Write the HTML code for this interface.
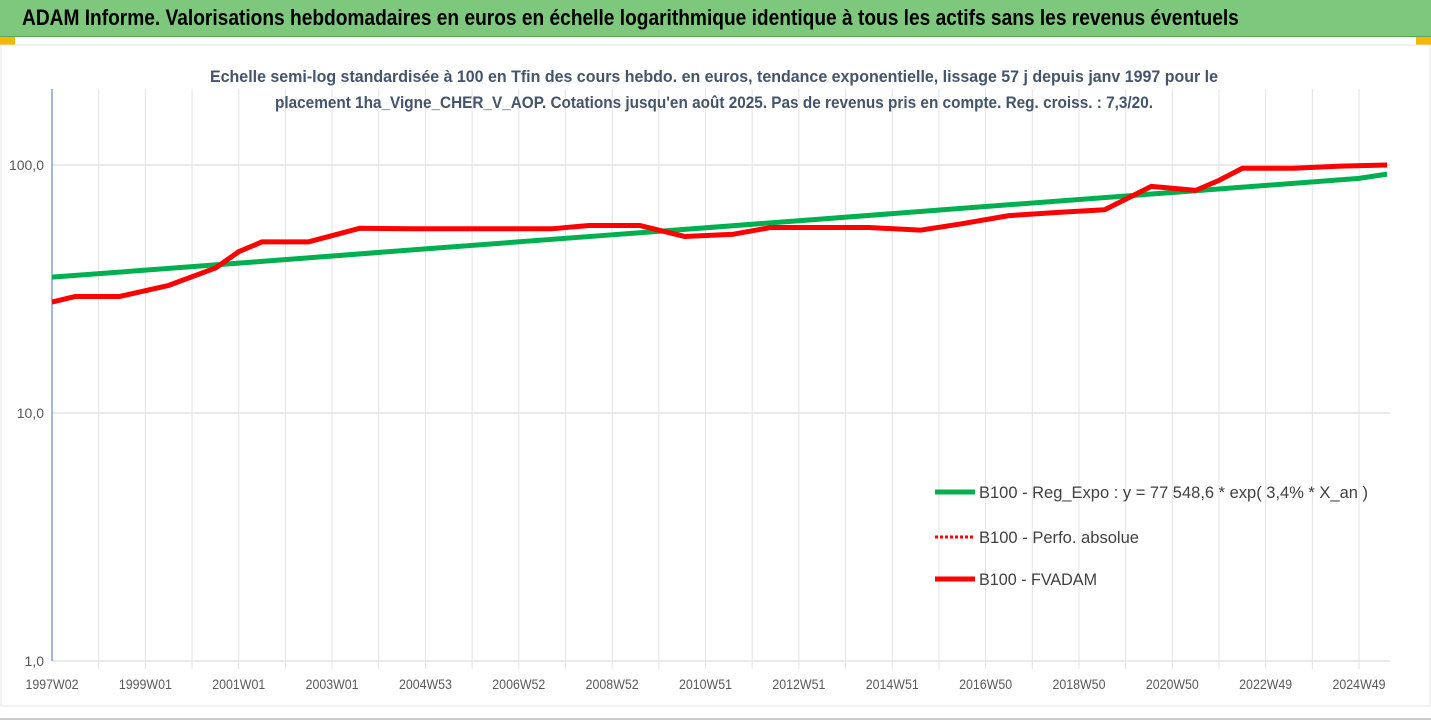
<!DOCTYPE html>
<html><head><meta charset="utf-8"><style>
body{margin:0;width:1431px;height:721px;overflow:hidden;background:#fff;font-family:"Liberation Sans",sans-serif}
#hdr{position:absolute;left:0;top:0;width:1431px;height:36px;background:#7dc87d;border-bottom:1px solid #5aa55a}
#hdr span{position:absolute;left:22px;top:5px;font-size:22px;font-weight:bold;color:#000;white-space:nowrap;transform-origin:0 0;transform:scaleX(0.87)}
.sq{position:absolute;top:37px;width:15px;height:8px;background:#f5b800}
</style></head><body>
<div id="hdr"><span>ADAM Informe. Valorisations hebdomadaires en euros en échelle logarithmique identique à tous les actifs sans les revenus éventuels</span></div>
<div class="sq" style="left:0"></div>
<div class="sq" style="left:1416px"></div>
<svg id="chart" width="1431" height="721" style="position:absolute;left:0;top:0">
<rect x="1" y="45" width="1429" height="661" fill="none" stroke="#e4e4e4"/>
<line x1="0" y1="719" x2="1431" y2="719" stroke="#999"/>
<g id="grid"></g><g id="axes"></g><g id="series"></g>
<text x="714" y="82" text-anchor="middle" font-size="17" font-weight="bold" fill="#44546a" textLength="1008" lengthAdjust="spacingAndGlyphs">Echelle semi-log standardisée à 100 en Tfin des cours hebdo. en euros, tendance exponentielle, lissage 57 j depuis janv 1997 pour le</text>
<text x="714" y="108" text-anchor="middle" font-size="17" font-weight="bold" fill="#44546a" textLength="878" lengthAdjust="spacingAndGlyphs">placement 1ha_Vigne_CHER_V_AOP. Cotations jusqu'en août 2025. Pas de revenus pris en compte. Reg. croiss. : 7,3/20.</text>
<g>
<line x1="935" y1="492" x2="975" y2="492" stroke="#00b050" stroke-width="5"/>
<text x="979" y="498" font-size="17" fill="#404040" textLength="389" lengthAdjust="spacingAndGlyphs">B100 - Reg_Expo : y = 77 548,6 * exp( 3,4% *  X_an )</text>
<line x1="935" y1="537" x2="975" y2="537" stroke="#ff0000" stroke-width="3" stroke-dasharray="3,2"/>
<text x="979" y="543" font-size="17" fill="#404040" textLength="160" lengthAdjust="spacingAndGlyphs">B100 - Perfo. absolue</text>
<line x1="935" y1="579" x2="975" y2="579" stroke="#ff0000" stroke-width="5"/>
<text x="979" y="585" font-size="17" fill="#404040" textLength="118" lengthAdjust="spacingAndGlyphs">B100 - FVADAM</text>
</g>
</svg>
<script>
const xLabels=["1997W02","1999W01","2001W01","2003W01","2004W53","2006W52","2008W52","2010W51","2012W51","2014W51","2016W50","2018W50","2020W50","2022W49","2024W49"];
const yTicks=[1,10,100];
const yTickLabels=["1,0","10,0","100,0"];
const fvYears=[1997.0,1997.5,1998.45,1999.5,2000.5,2001.0,2001.5,2002.5,2003.6,2004.7,2007.7,2008.5,2009.6,2010.55,2011.6,2012.4,2014.5,2015.6,2016.45,2017.5,2018.6,2019.55,2020.55,2021.5,2022.0,2022.5,2023.6,2024.6,2025.6];
const fvValues=[28,29.5,29.5,32.7,38.4,44.7,49,49,55.6,55.3,55.3,57,57,51.5,52.6,56,56,54.6,57.8,62.5,64.5,66,82,79,86.7,97,97,99,100];
const regYears=[1997,2001,2005,2009,2013,2017,2021,2025,2025.6];
const regValues=[35.3,40.2,45.9,52.3,59.6,68,77.5,88.3,91.9];
const X0=52,PX_YR=46.68,Y1=661,DEC=248,TOP=89,RIGHT=1390;
const xs=t=>X0+(t-1997)*PX_YR;
const ys=v=>Y1-Math.log10(v)*DEC;
const NS="http://www.w3.org/2000/svg";
function mk(tag,attrs,parent){const e=document.createElementNS(NS,tag);for(const k in attrs)e.setAttribute(k,attrs[k]);parent.appendChild(e);return e;}
const grid=document.getElementById('grid'),axes=document.getElementById('axes'),series=document.getElementById('series');
for(let i=1;i*PX_YR+X0<RIGHT+5;i++){
 const x=X0+i*PX_YR;
 const l=mk('line',{x1:x,y1:TOP,x2:x,y2:Y1+8,stroke:'#e3e3e3','stroke-width':1},grid);
 
 
}
yTicks.forEach((v,i)=>{
 const y=ys(v);
 const l=mk('line',{x1:X0,y1:y,x2:RIGHT,y2:y,stroke:'#e3e3e3','stroke-width':1.5},grid);
 
 
 const t=mk('text',{x:44,y:y+5,'text-anchor':'end','font-size':14,fill:'#595959'},axes);
 t.textContent=yTickLabels[i];
 
 
});
const ax=mk('line',{x1:X0,y1:TOP,x2:X0,y2:Y1,stroke:'#4472c4','stroke-width':1},axes);


xLabels.forEach((s,i)=>{
 const t=mk('text',{x:X0+i*2*PX_YR,y:689,'text-anchor':'middle','font-size':14,fill:'#595959',textLength:53,lengthAdjust:'spacingAndGlyphs'},axes);
 t.textContent=s;
 
 
});
const gp=mk('polyline',{points:regYears.map((t,i)=>xs(t)+','+ys(regValues[i])).join(' '),fill:'none',stroke:'#00b050','stroke-width':5},series);


const rp=mk('polyline',{points:fvYears.map((t,i)=>xs(t)+','+ys(fvValues[i])).join(' '),fill:'none',stroke:'#ff0000','stroke-width':5,'stroke-linejoin':'round'},series);


</script>
</body></html>
